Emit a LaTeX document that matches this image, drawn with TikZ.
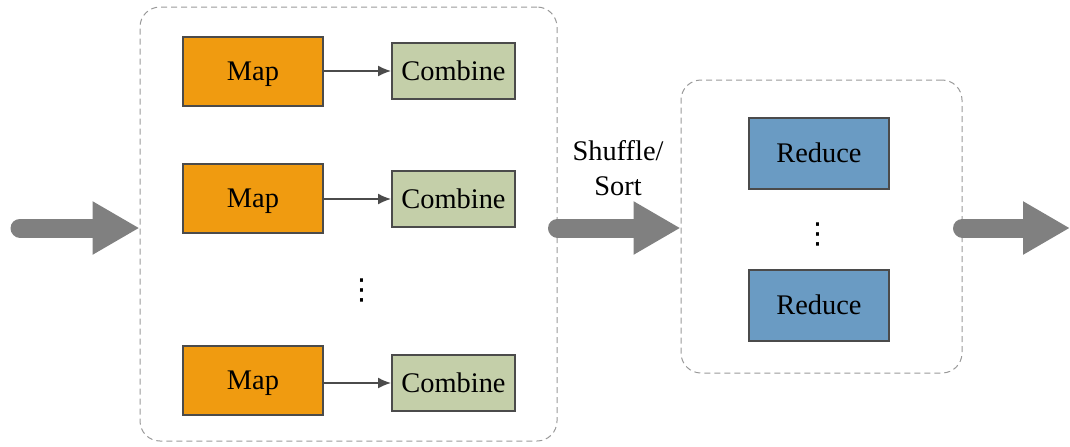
\documentclass[tikz,border=0pt]{standalone}
\usepackage{fontspec}
\setmainfont{Liberation Serif}
\newfontfamily\symfont{DejaVu Sans}
\usetikzlibrary{arrows.meta}

\definecolor{maporange}{RGB}{240,155,16}
\definecolor{combgreen}{RGB}{196,207,169}
\definecolor{redblue}{RGB}{106,155,195}
\definecolor{boxedge}{RGB}{75,75,75}
\definecolor{flowgray}{RGB}{128,128,128}

\tikzset{
  stage/.style={draw=gray!80, densely dashed, line width=0.5pt, rounded corners=10pt},
  cell/.style={draw=boxedge, line width=1pt, inner sep=0pt, text height=9.4pt, text depth=0pt},
  mapbox/.style={cell, fill=maporange, minimum width=70pt, minimum height=34.5pt},
  combox/.style={cell, fill=combgreen, minimum width=61.5pt, minimum height=28pt},
  redbox/.style={cell, fill=redblue, minimum width=70pt, minimum height=35.5pt},
  dots/.style={font=\symfont\fontsize{14.5}{17}\selectfont, inner sep=0pt},
  link/.style={draw=boxedge, line width=0.75pt, -{Latex[length=6.5pt,width=5.5pt]}},
  flow/.style={draw=flowgray, line width=9.5pt, line cap=round, -{Triangle[length=23.5pt,width=25pt]}}
}

\begin{document}
\begin{tikzpicture}[x=0.5pt,y=-0.5pt,font=\fontsize{14.2}{17}\selectfont]

\useasboundingbox (0,0) rectangle (1070,446);

% Les deux etapes
\node[stage, minimum width=208.5pt, minimum height=217pt] (mapstage) at (348.5,224) {};
\node[stage, minimum width=140.5pt, minimum height=146.5pt] (redstage) at (821.5,226.5) {};

% Map et Combine
\node[mapbox] (map1) at (253,71.5) {Map};
\node[mapbox] (map2) at (253,198) {Map};
\node[mapbox] (map3) at (253,380.5) {Map};
\node[combox] (comb1) at (453.5,71) {Combine};
\node[combox] (comb2) at (453.5,199) {Combine};
\node[combox] (comb3) at (453.5,383) {Combine};
\node[dots] (mapdots) at (362,290) {⋮};

\draw[link] (map1.east |- comb1) -- (comb1);
\draw[link] (map2.east |- comb2) -- (comb2);
\draw[link] (map3.east |- comb3) -- (comb3);

% Reduce
\node[redbox] (red1) at (819,153.5) {Reduce};
\node[redbox] (red2) at (819,305.5) {Reduce};
\node[dots] (reddots) at (818,234) {⋮};

% Fleches epaisses
\coordinate (input) at (20,228);
\coordinate (output) at (1070,228);
\draw[flow] (input) -- (input -| mapstage.west);
\draw[flow] (mapstage.east |- input) -- (redstage.west |- input);
\draw[flow] (redstage.east |- input) -- (output);

\node[align=center, font=\fontsize{14.2}{17.5}\selectfont] (shuffle) at (618,168) {Shuffle/\\Sort};

\end{tikzpicture}
\end{document}
